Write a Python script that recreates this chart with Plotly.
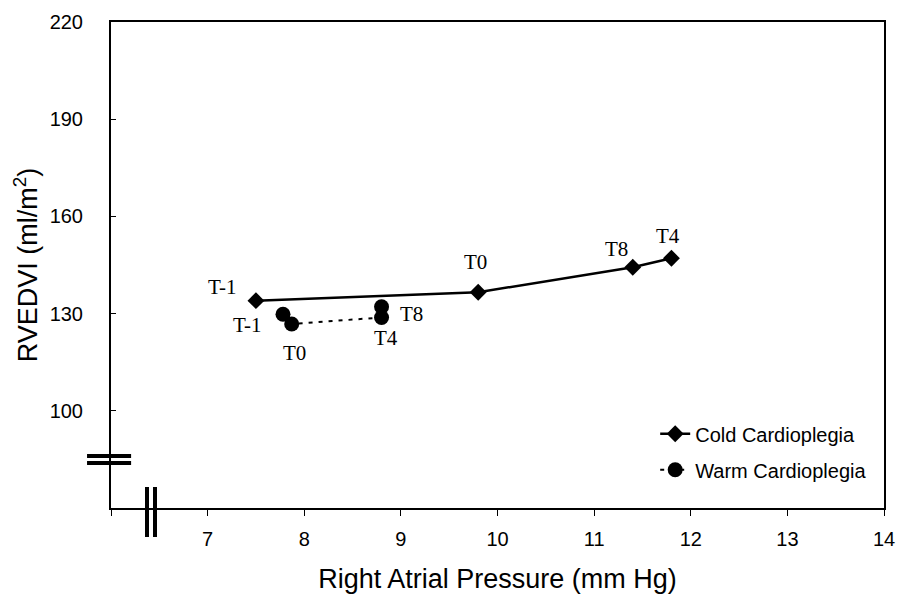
import plotly.graph_objects as go

# ---- data ----
cold_x = [7.5, 9.8, 11.4, 11.8]
cold_y = [134, 136.6, 144.3, 147.1]
cold_labels = ["T-1", "T0", "T8", "T4"]

warm_x = [7.78, 7.87, 8.8, 8.8]
warm_y = [129.8, 126.8, 128.8, 132.1]
warm_labels = ["T-1", "T0", "T4", "T8"]

x_ticks = [7, 8, 9, 10, 11, 12, 13, 14]
x_minor_ticks = [6]
y_ticks = [100, 130, 160, 190, 220]

# ---- label offsets (pixels, style) ----
cold_off = [(-34, 14), (-3, 30), (-16, 18), (-3, 22)]
warm_off = [(-36, -11), (3, -29), (4, -21), (30, -7)]

AX = "Liberation Sans, Arial, sans-serif"
SERIF = "Liberation Serif, Times New Roman, serif"

fig = go.Figure()
fig.add_trace(go.Scatter(
    x=cold_x, y=cold_y, mode="lines+markers", name="Cold Cardioplegia",
    line=dict(color="black", width=2.5),
    marker=dict(symbol="diamond", size=13, color="black"),
    legendgroup="a",
))
fig.add_trace(go.Scatter(
    x=warm_x, y=warm_y, mode="lines+markers", name="Warm Cardioplegia",
    line=dict(color="black", width=2, dash="4px,6px"),
    marker=dict(symbol="circle", size=15, color="black"),
    legendgroup="b",
))

for xs, ys, labs, offs in [(cold_x, cold_y, cold_labels, cold_off),
                           (warm_x, warm_y, warm_labels, warm_off)]:
    for xv, yv, lab, (dx, dy) in zip(xs, ys, labs, offs):
        fig.add_annotation(x=xv, y=yv, text=lab, showarrow=False,
                           xshift=dx, yshift=dy,
                           font=dict(family=SERIF, size=21, color="black"))

# axis break marks
brk = dict(color="black", width=4)
for yp in [0.107, 0.0926]:
    fig.add_shape(type="line", xref="paper", yref="paper",
                  x0=-0.031, x1=0.026, y0=yp, y1=yp, line=brk)
for xp in [0.0466, 0.0569]:
    fig.add_shape(type="line", xref="paper", yref="paper",
                  x0=xp, x1=xp, y0=0.0432, y1=-0.0597, line=brk)

fig.update_layout(
    width=899, height=599,
    margin=dict(l=111, r=15, t=22, b=91),
    paper_bgcolor="white", plot_bgcolor="white",
    font=dict(family=AX, color="black"),
    showlegend=True,
    legend=dict(x=0.704, y=0.193, xanchor="left", yanchor="top",
                bgcolor="rgba(0,0,0,0)", font=dict(family=AX, size=20),
                traceorder="grouped", tracegroupgap=7),
    xaxis=dict(range=[6, 14], tickvals=x_ticks, automargin=False,
               ticks="outside", ticklen=6, tickwidth=1, tickcolor="black",
               minor=dict(tickvals=x_minor_ticks, ticks="outside", ticklen=6,
                          tickwidth=1, tickcolor="black", showgrid=False),
               showline=True, linewidth=2, linecolor="black", mirror=True,
               showgrid=False, zeroline=False, ticklabelstandoff=6,
               tickfont=dict(family=AX, size=20),
               title=dict(text="Right Atrial Pressure (mm Hg)",
                          font=dict(family=AX, size=27), standoff=20)),
    yaxis=dict(range=[70, 220], tickvals=y_ticks, automargin=False,
               ticks="inside", ticklen=5, tickwidth=1, tickcolor="black",
               showline=True, linewidth=2, linecolor="black", mirror=True,
               showgrid=False, zeroline=False, ticklabelstandoff=22,
               tickfont=dict(family=AX, size=20),
               title=dict(text="RVEDVI (ml/m<sup>2</sup>)",
                          font=dict(family=AX, size=27), standoff=4)),
)

fig.write_html("out.html", config={"displayModeBar": False},
               post_script="document.body.style.margin='0';document.body.style.padding='0';")
